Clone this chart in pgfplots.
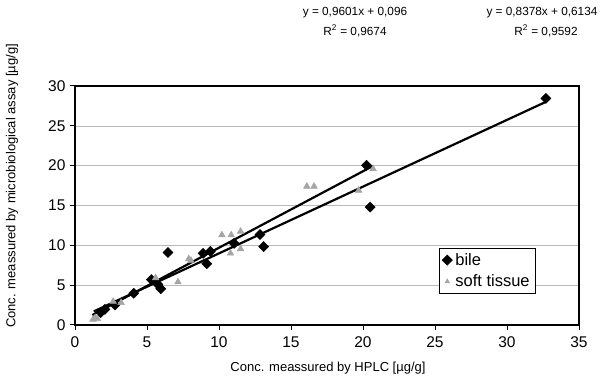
\documentclass[border=0pt]{standalone}
\usepackage{pgfplots}
\pgfplotsset{compat=1.18}
\usepackage{fontspec}
\setmainfont{Liberation Sans}
\begin{document}
\begin{tikzpicture}
\useasboundingbox (-75pt,-57pt) rectangle (530pt,325pt);
\begin{axis}[
  at={(0pt,0pt)}, anchor=origin,
  scale only axis, width=504pt, height=239pt,
  xmin=0, xmax=35, ymin=0, ymax=30,
  xtick={0,5,...,35}, ytick={0,5,...,30},
  tick align=outside, xtick pos=left, ytick pos=left,
  major tick length=5pt,
  tick style={black, line width=1pt},
  axis line style={black, line width=1.3pt},
  ymajorgrids, major grid style={gray!55, line width=0.6pt},
  /pgf/number format/assume math mode=true,
  tick label style={font=\fontsize{15.5}{18}\selectfont},
  xticklabel style={yshift=-3pt},
  yticklabel style={xshift=-1pt},
  legend style={at={(rel axis cs:0.722,0.322)}, anchor=north west, draw=black, line width=0.6pt,
    font=\fontsize{16.5}{19}\selectfont, inner xsep=3pt, inner ysep=4pt, row sep=6pt,
    nodes={inner xsep=3pt, inner ysep=1pt}},
  legend cell align=left,
  legend image code/.code={\draw[#1] plot coordinates {(0.15cm,0cm)};},
  clip=false,
]
\addplot[only marks, mark=square*, mark options={rotate=45}, mark size=3.6pt, black] coordinates {
(1.78,1.55) (2.08,1.96) (2.78,2.5) (4.08,3.98) (5.3,5.7) (5.75,5.1) (5.95,4.55)
(6.45,9.1) (8.9,9.0) (9.4,9.25) (9.15,7.7) (11.05,10.25) (12.85,11.35) (13.1,9.85)
(20.25,20.05) (20.5,14.8) (32.7,28.45)
};
\addlegendentry{bile}
\addplot[only marks, mark=triangle*, mark size=3.9pt, color={rgb,255:red,165;green,165;blue,165},
  legend image post style={mark size=2.6pt}] coordinates {
(1.25,0.7) (1.4,0.9) (1.55,0.8) (2.65,2.95) (3.2,2.8) (5.6,5.9) (7.15,5.4)
(7.9,8.3) (8.05,8.1) (10.2,11.3) (10.85,11.3) (11.5,11.75) (10.8,9.0) (11.5,9.55)
(16.1,17.4) (16.6,17.4) (19.7,16.9) (20.7,19.6)
};
\addlegendentry{soft tissue}
\addplot[forget plot, black, line width=2.2pt] coordinates {(1.3,1.7025) (32.7,28.009)};
\addplot[forget plot, black, line width=2.2pt] coordinates {(1.2,1.248) (20.7,19.97)};
\end{axis}
\node[font=\fontsize{11.8}{14}\selectfont] at (280pt,312pt) {y = 0,9601x + 0,096};
\node[font=\fontsize{11.8}{14}\selectfont] at (280pt,294pt) {R\textsuperscript{2} = 0,9674};
\node[font=\fontsize{11.8}{14}\selectfont] at (467pt,312pt) {y = 0,8378x + 0,6134};
\node[font=\fontsize{11.8}{14}\selectfont] at (471pt,294pt) {R\textsuperscript{2} = 0,9592};
\node[font=\fontsize{13}{15}\selectfont] at (253pt,-43pt) {Conc. meassured by HPLC [µg/g]};
\node[font=\fontsize{13}{15}\selectfont, rotate=90] at (-63pt,139pt) {Conc. meassured by microbiological assay [µg/g]};
\end{tikzpicture}
\end{document}
